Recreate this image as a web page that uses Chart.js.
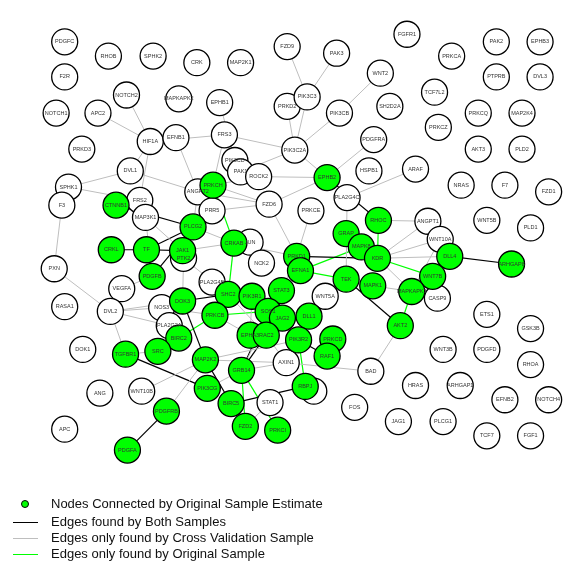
<!DOCTYPE html>
<html lang="en">
<head>
<meta charset="utf-8">
<title>Pathway network</title>
<script src="https://cdn.jsdelivr.net/npm/chart.js"></script>
<style>
  body { margin: 0; background: #fff; font-family: "Liberation Sans", Arial, sans-serif; }
  #wrap { position: relative; width: 581px; height: 565px; }
  #net { position: absolute; left: 0; top: 0; }
  .key { position: absolute; left: 0; height: 16px; width: 581px; }
  .key .mark { position: absolute; left: 13px; width: 25px; top: 8px; height: 0; }
  .key .dot { position: absolute; left: 21px; top: 4px; width: 6px; height: 6px; border-radius: 50%;
              background: #00ff00; border: 1px solid #000; }
  .key span { position: absolute; left: 51px; top: 0; font-size: 13px; line-height: 16px; color: #111; white-space: nowrap; }
</style>
</head>
<body>
<div id="wrap">
  <canvas id="net" width="581" height="565"></canvas>
  <div class="key" style="top:496px"><div class="dot"></div><span>Nodes Connected by Original Sample Estimate</span></div>
  <div class="key" style="top:514px"><div class="mark" style="border-top:1.5px solid #000"></div><span>Edges found by Both Samples</span></div>
  <div class="key" style="top:530px"><div class="mark" style="border-top:1px solid #bebebe"></div><span>Edges only found by Cross Validation Sample</span></div>
  <div class="key" style="top:546px"><div class="mark" style="border-top:1.5px solid #00ff00"></div><span>Edges only found by Original Sample</span></div>
</div>

<script>
// genes with no estimated connection (white) and connected genes (green)
const otherNames = ['PDGFC','RHOB','SPHK2','CRK','MAP2K1','FZD9','PAK3','FGFR1','PRKCA','PAK2','EPHB3',
  'F2R','NOTCH2','MAPKAPK2','EPHB1','PRKD2','PIK3C3','PIK3CB','WNT2','SH2D2A','TCF7L2','PTPRB','DVL3',
  'NOTCH1','APC2','PRKCQ','MAP2K4','PRKCZ','HIF1A','EFNB1','PRKD3','FRS3','PIK3C2A','PDGFRA','AKT3','PLD2',
  'ARAF','HSPB1','DVL1','PIK3CD','PAK1','ROCK2','NRAS','F7','FZD1','SPHK1','F3','FRS2','MAP3K1','ANGPT2',
  'PRR5','FZD6','PRKCE','PLA2G4C','ANGPT1','WNT5B','PLD1','WNT10A','JUN','PTK2','NCK2','PXN','VEGFA',
  'PLA2G4B','WNT5A','CASP9','RASA1','DVL2','NOS3','PLA2G2A','DOK1','ETS1','GSK3B','WNT3B','PDGFD','AXIN1',
  'BAD','RHOA','ANG','WNT10B','HRAS','ARHGAP1','MAML1','STAT1','FOS','EFNB2','NOTCH4','JAG1','PLCG1','APC',
  'TCF7','FGF1'];
const otherX = [53,99,146,192,238,287,339,413,460,507,553,
  53,118,173,216,287,308,342,385,395,442,507,553,
  44,88,488,534,446,143,170,71,221,295,378,488,534,
  422,373,122,232,238,257,470,516,562,57,50,132,138,193,
  208,268,312,350,435,497,543,448,248,178,260,42,113,
  208,327,445,53,101,155,163,72,497,543,451,497,286,
  375,543,90,134,422,469,315,269,358,516,562,404,451,53,
  497,543];
const otherY = [29,44,44,51,51,34,41,21,44,29,29,
  66,85,89,93,97,87,104,62,97,82,66,66,
  104,104,104,104,119,134,130,142,127,143,132,142,142,
  163,165,165,154,166,171,180,180,187,182,201,196,214,187,
  207,200,207,193,218,217,225,237,240,257,262,268,289,
  282,297,299,308,313,309,328,353,316,331,353,353,367,
  376,369,399,397,391,391,397,409,414,406,406,429,429,437,
  444,444];

const linkedNames = ['EPHB2','PRKCH','CTNNB1','PLCG2','RHOC','GRAP','CRKAB','MAPK8','CRKL','TF','JAK1',
  'PRKD1','DLL4','KDR','ARHGAP8','EFNA1','PDGFB','WNT7B','TEK','MAPK1','STAT3','MAPKAPK3','SHC2','PIK3R1',
  'DOK3','SOS1','PRKCB','DLL1','JAG2','AKT2','BIRC2','EPHA3','RAC2','PIK3R2','PRKCD','SRC','TGFBR1','RAF1',
  'MAP2K2','GRB14','RBPJ','PIK3CG','BIRC5','PDGFRB','FZD2','PRKCI','PDGFA'];
const linkedX = [329,209,107,188,383,349,231,365,102,139,177,
  297,458,382,523,301,145,440,349,377,281,418,225,250,
  177,267,211,310,282,406,173,248,265,299,335,151,117,329,
  201,239,306,203,228,160,243,277,119];
const linkedY = [172,180,201,224,217,231,241,245,248,248,249,
  255,255,257,263,270,276,276,279,286,291,292,295,297,
  302,313,317,318,320,328,341,338,338,343,342,355,358,360,
  364,375,392,394,410,418,434,438,459];

// edges by which sample found them
const edgesBoth = [['CTNNB1','PLCG2'],['CRKL','TF'],['TF','JAK1'],['TF','PLCG2'],['PDGFB','PLCG2'],
  ['JAK1','PLCG2'],['EPHB2','RHOC'],['PRKD1','KDR'],['TEK','AKT2'],['DLL4','ARHGAP8'],['DOK3','MAP2K2'],
  ['DOK3','SHC2'],['TGFBR1','PIK3CG'],['PDGFRB','PDGFA'],['MAP2K2','BIRC5'],['GRB14','RAC2'],
  ['GRB14','SOS1'],['BIRC5','RBPJ'],['PIK3R2','RAF1'],['JAG2','DLL1']];
const edgesCrossVal = [['NOTCH2','HIF1A'],['APC2','HIF1A'],['HIF1A','FRS3'],['HIF1A','DVL1'],['HIF1A','FRS2'],
  ['EFNB1','ANGPT2'],['FZD9','PIK3C3'],['PAK3','PIK3C3'],['PRKD2','PIK3C2A'],['PIK3C3','PIK3C2A'],
  ['PIK3CB','PIK3C2A'],['WNT2','PIK3CB'],['EPHB1','PIK3CD'],['FRS3','PIK3C2A'],['FRS3','PRKCH'],
  ['PIK3C2A','PAK1'],['PIK3C2A','EPHB2'],['PDGFRA','EPHB2'],['ARAF','PLA2G4C'],['DVL1','SPHK1'],
  ['DVL1','ANGPT2'],['SPHK1','FRS2'],['F3','PXN'],['PXN','DVL2'],['MAP3K1','PDGFB'],['MAP3K1','JAK1'],
  ['ANGPT2','PLCG2'],['ANGPT2','FZD6'],['PRKCH','ROCK2'],['PRKCH','FZD6'],['PRR5','FZD6'],['PLCG2','CRKAB'],
  ['JAK1','CRKAB'],['CRKAB','PRKD1'],['FZD6','PRKD1'],['PRKCE','PRKD1'],['EPHB2','FZD6'],['ROCK2','EPHB2'],
  ['PLA2G4C','TEK'],['RHOC','ANGPT1'],['KDR','ANGPT1'],['KDR','DLL4'],['KDR','WNT10A'],['KDR','MAPKAPK3'],
  ['WNT10A','MAPKAPK3'],['MAPK1','MAPKAPK3'],['AKT2','BAD'],['DVL2','NOS3'],['DVL2','DOK3'],['DVL2','PLA2G2A'],
  ['DVL2','TGFBR1'],['TGFBR1','SRC'],['WNT10B','MAP2K2'],['PDGFRB','MAP2K2'],['NOS3','PRKCB'],['PTK2','DOK3'],
  ['VEGFA','PDGFB'],['MAP2K2','AXIN1'],['MAP2K2','PIK3R2'],['GRB14','AXIN1'],['PIK3CG','GRB14'],['AXIN1','BAD'],
  ['STAT1','FZD2'],['SHC2','RAC2'],['PIK3R1','EPHA3'],['STAT3','GRB14'],['PIK3R1','JAG2'],['SHC2','DLL1'],
  ['PRKCB','EPHA3'],['SOS1','PIK3R2'],['DLL1','PIK3R2'],['STAT3','PRKD1'],['STAT3','EFNA1'],['RAC2','AXIN1'],
  ['PTK2','SHC2']];
const edgesOriginal = [['PRKCH','CRKAB'],['CRKAB','SHC2'],['EFNA1','MAPK8'],['EFNA1','TEK'],['TEK','DLL1'],
  ['RHOC','KDR'],['KDR','WNT7B'],['MAPKAPK3','AKT2'],['BIRC2','PRKCB'],['PRKCB','SOS1'],['GRB14','FZD2'],
  ['GRB14','PRKCI'],['PIK3R2','RBPJ']];

// lookup of every gene position
const pos = {};
otherNames.forEach((n, i) => { pos[n] = { x: otherX[i], y: otherY[i] }; });
linkedNames.forEach((n, i) => { pos[n] = { x: linkedX[i], y: linkedY[i] }; });

const edgeSet = (pairs, color, width) => pairs.map(([a, b]) => ({
  type: 'scatter',
  data: [pos[a], pos[b]],
  showLine: true,
  borderColor: color,
  borderWidth: width,
  pointRadius: 0,
  order: 2
}));

const nodeData = otherNames.map(n => pos[n]).concat(linkedNames.map(n => pos[n]));
const nodeFill = otherNames.map(() => '#ffffff').concat(linkedNames.map(() => '#00ff00'));
const nodeText = otherNames.concat(linkedNames).map(n => n === 'MAML1' ? '' : n);

const datasets = [
  {
    label: 'genes',
    data: nodeData,
    pointRadius: 13,
    pointBackgroundColor: nodeFill,
    pointBorderColor: '#000',
    pointBorderWidth: 1.3,
    order: 0
  },
  ...edgeSet(edgesCrossVal, '#bebebe', 1),
  ...edgeSet(edgesBoth, '#000000', 1.2),
  ...edgeSet(edgesOriginal, '#00ff00', 1.2)
];

// gene names written in the middle of each circle
const nodeLabels = {
  id: 'nodeLabels',
  afterDatasetsDraw(chart) {
    const { ctx, scales } = chart;
    ctx.save();
    ctx.font = '5.5px "Liberation Sans", Arial, sans-serif';
    ctx.fillStyle = '#333';
    ctx.textAlign = 'center';
    ctx.textBaseline = 'middle';
    nodeData.forEach((p, i) => {
      ctx.fillText(nodeText[i], scales.x.getPixelForValue(p.x), scales.y.getPixelForValue(p.y));
    });
    ctx.restore();
  }
};

new Chart(document.getElementById('net'), {
  type: 'scatter',
  data: { datasets },
  options: {
    responsive: false,
    animation: false,
    events: [],
    layout: { padding: 0 },
    plugins: { legend: { display: false }, tooltip: { enabled: false } },
    scales: {
      x: { type: 'linear', min: 0, max: 581, display: false },
      y: { type: 'linear', min: 0, max: 565, reverse: true, display: false }
    }
  },
  plugins: [nodeLabels]
});
</script>
</body>
</html>
